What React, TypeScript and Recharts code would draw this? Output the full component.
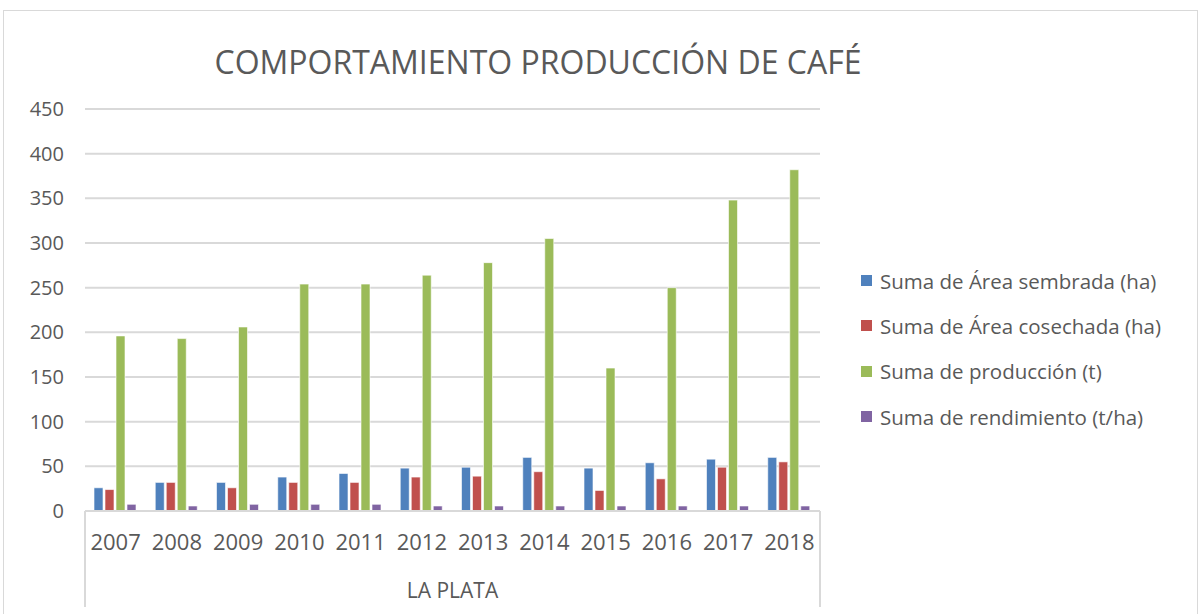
import React from 'react';
import { BarChart, Bar, XAxis, YAxis, CartesianGrid, Legend } from 'recharts';

const years = ['2007', '2008', '2009', '2010', '2011', '2012', '2013', '2014', '2015', '2016', '2017', '2018'];
const areaSembrada = [26, 32, 32, 38, 42, 48, 49, 60, 48, 54, 58, 60];
const areaCosechada = [24, 32, 26, 32, 32, 38, 39, 44, 23, 36, 49, 55];
const produccion = [196, 193, 206, 254, 254, 264, 278, 305, 160, 250, 348, 382];
const rendimiento = [7.5, 5.6, 7.5, 7.5, 7.5, 5.6, 5.6, 5.6, 5.6, 5.6, 5.6, 5.6];
const yTicks = [0, 50, 100, 150, 200, 250, 300, 350, 400, 450];
const groupLabel = 'LA PLATA';
const title = 'COMPORTAMIENTO PRODUCCIÓN DE CAFÉ';

const series = [
  { key: 'sembrada', name: 'Suma de Área sembrada (ha)', color: '#4F81BD', values: areaSembrada },
  { key: 'cosechada', name: 'Suma de Área cosechada (ha)', color: '#C0504D', values: areaCosechada },
  { key: 'produccion', name: 'Suma de producción (t)', color: '#9BBB59', values: produccion },
  { key: 'rendimiento', name: 'Suma de rendimiento (t/ha)', color: '#8064A2', values: rendimiento },
];

const data = years.map((y, i) => {
  const row: any = { year: y };
  series.forEach((s) => { row[s.key] = s.values[i]; });
  return row;
});

const FONT = '"Open Sans", sans-serif';
const TEXT = '#595959';
const GRID = '#d9d9d9';
const TICK_MARGIN = 22;

const XTick = (props: any) => {
  const { x, y, payload, index, visibleTicksCount } = props;
  const half = payload && typeof payload.offset === 'number' && payload.offset > 0 ? payload.offset : 735 / 24;
  const axisY = y - TICK_MARGIN;
  return (
    <g>
      <text x={x} y={y} dy={17} textAnchor="middle" fill={TEXT} fontSize={22} fontFamily={FONT}>
        {payload.value}
      </text>
      {index === 0 && <line x1={x - half} x2={x - half} y1={axisY} y2={axisY + 96} stroke={GRID} strokeWidth={2} />}
      {index === visibleTicksCount - 1 && <line x1={x + half} x2={x + half} y1={axisY} y2={axisY + 96} stroke={GRID} strokeWidth={2} />}
    </g>
  );
};

const LegendContent = () => (
  <div style={{ fontFamily: FONT, color: TEXT, fontSize: 20.5 }}>
    {series.map((s) => (
      <div key={s.key} style={{ display: 'flex', alignItems: 'center', height: 45.3 }}>
        <div style={{ width: 11, height: 11, background: s.color, marginRight: 8 }} />
        <span style={{ whiteSpace: 'nowrap' }}>{s.name}</span>
      </div>
    ))}
  </div>
);

export default function App() {
  return (
    <div style={{ position: 'absolute', left: 0, top: 0, width: 1200, height: 614, background: '#fff', overflow: 'hidden' }}>
      <div style={{ position: 'absolute', left: 3, top: 10, width: 1193, height: 640, border: `1px solid ${GRID}` }} />
      <div style={{ position: 'absolute', left: 0, top: 0 }}>
        <BarChart
          width={1200}
          height={614}
          data={data}
          margin={{ top: 109, right: 380, bottom: 3, left: 25 }}
          barCategoryGap={9}
          barGap={2}
        >
          <text x={538} y={74} textAnchor="middle" fill={TEXT} fontSize={32} fontFamily={FONT}>
            {title}
          </text>
          <CartesianGrid vertical={false} stroke={GRID} strokeWidth={2} />
          <XAxis
            dataKey="year"
            height={100}
            tickLine={false}
            tickSize={0}
            tickMargin={TICK_MARGIN}
            axisLine={{ stroke: GRID, strokeWidth: 2 }}
            tick={<XTick />}
            interval={0}
            label={{ value: groupLabel, position: 'insideBottom', offset: 13, fill: TEXT, fontSize: 21, fontFamily: FONT }}
          />
          <YAxis
            width={60}
            domain={[0, 450]}
            ticks={yTicks}
            tickLine={false}
            axisLine={false}
            tickSize={0}
            tickMargin={21}
            tick={{ fill: TEXT, fontSize: 20, fontFamily: FONT }}
          />
          <Legend
            layout="vertical"
            align="center"
            verticalAlign="middle"
            content={<LegendContent />}
            wrapperStyle={{ position: 'absolute', left: 861, top: 258, width: 330 }}
          />
          {series.map((s) => (
            <Bar key={s.key} dataKey={s.key} name={s.name} fill={s.color} stroke="#ffffff" strokeOpacity={0.6} strokeWidth={1} isAnimationActive={false} />
          ))}
        </BarChart>
      </div>
    </div>
  );
}
